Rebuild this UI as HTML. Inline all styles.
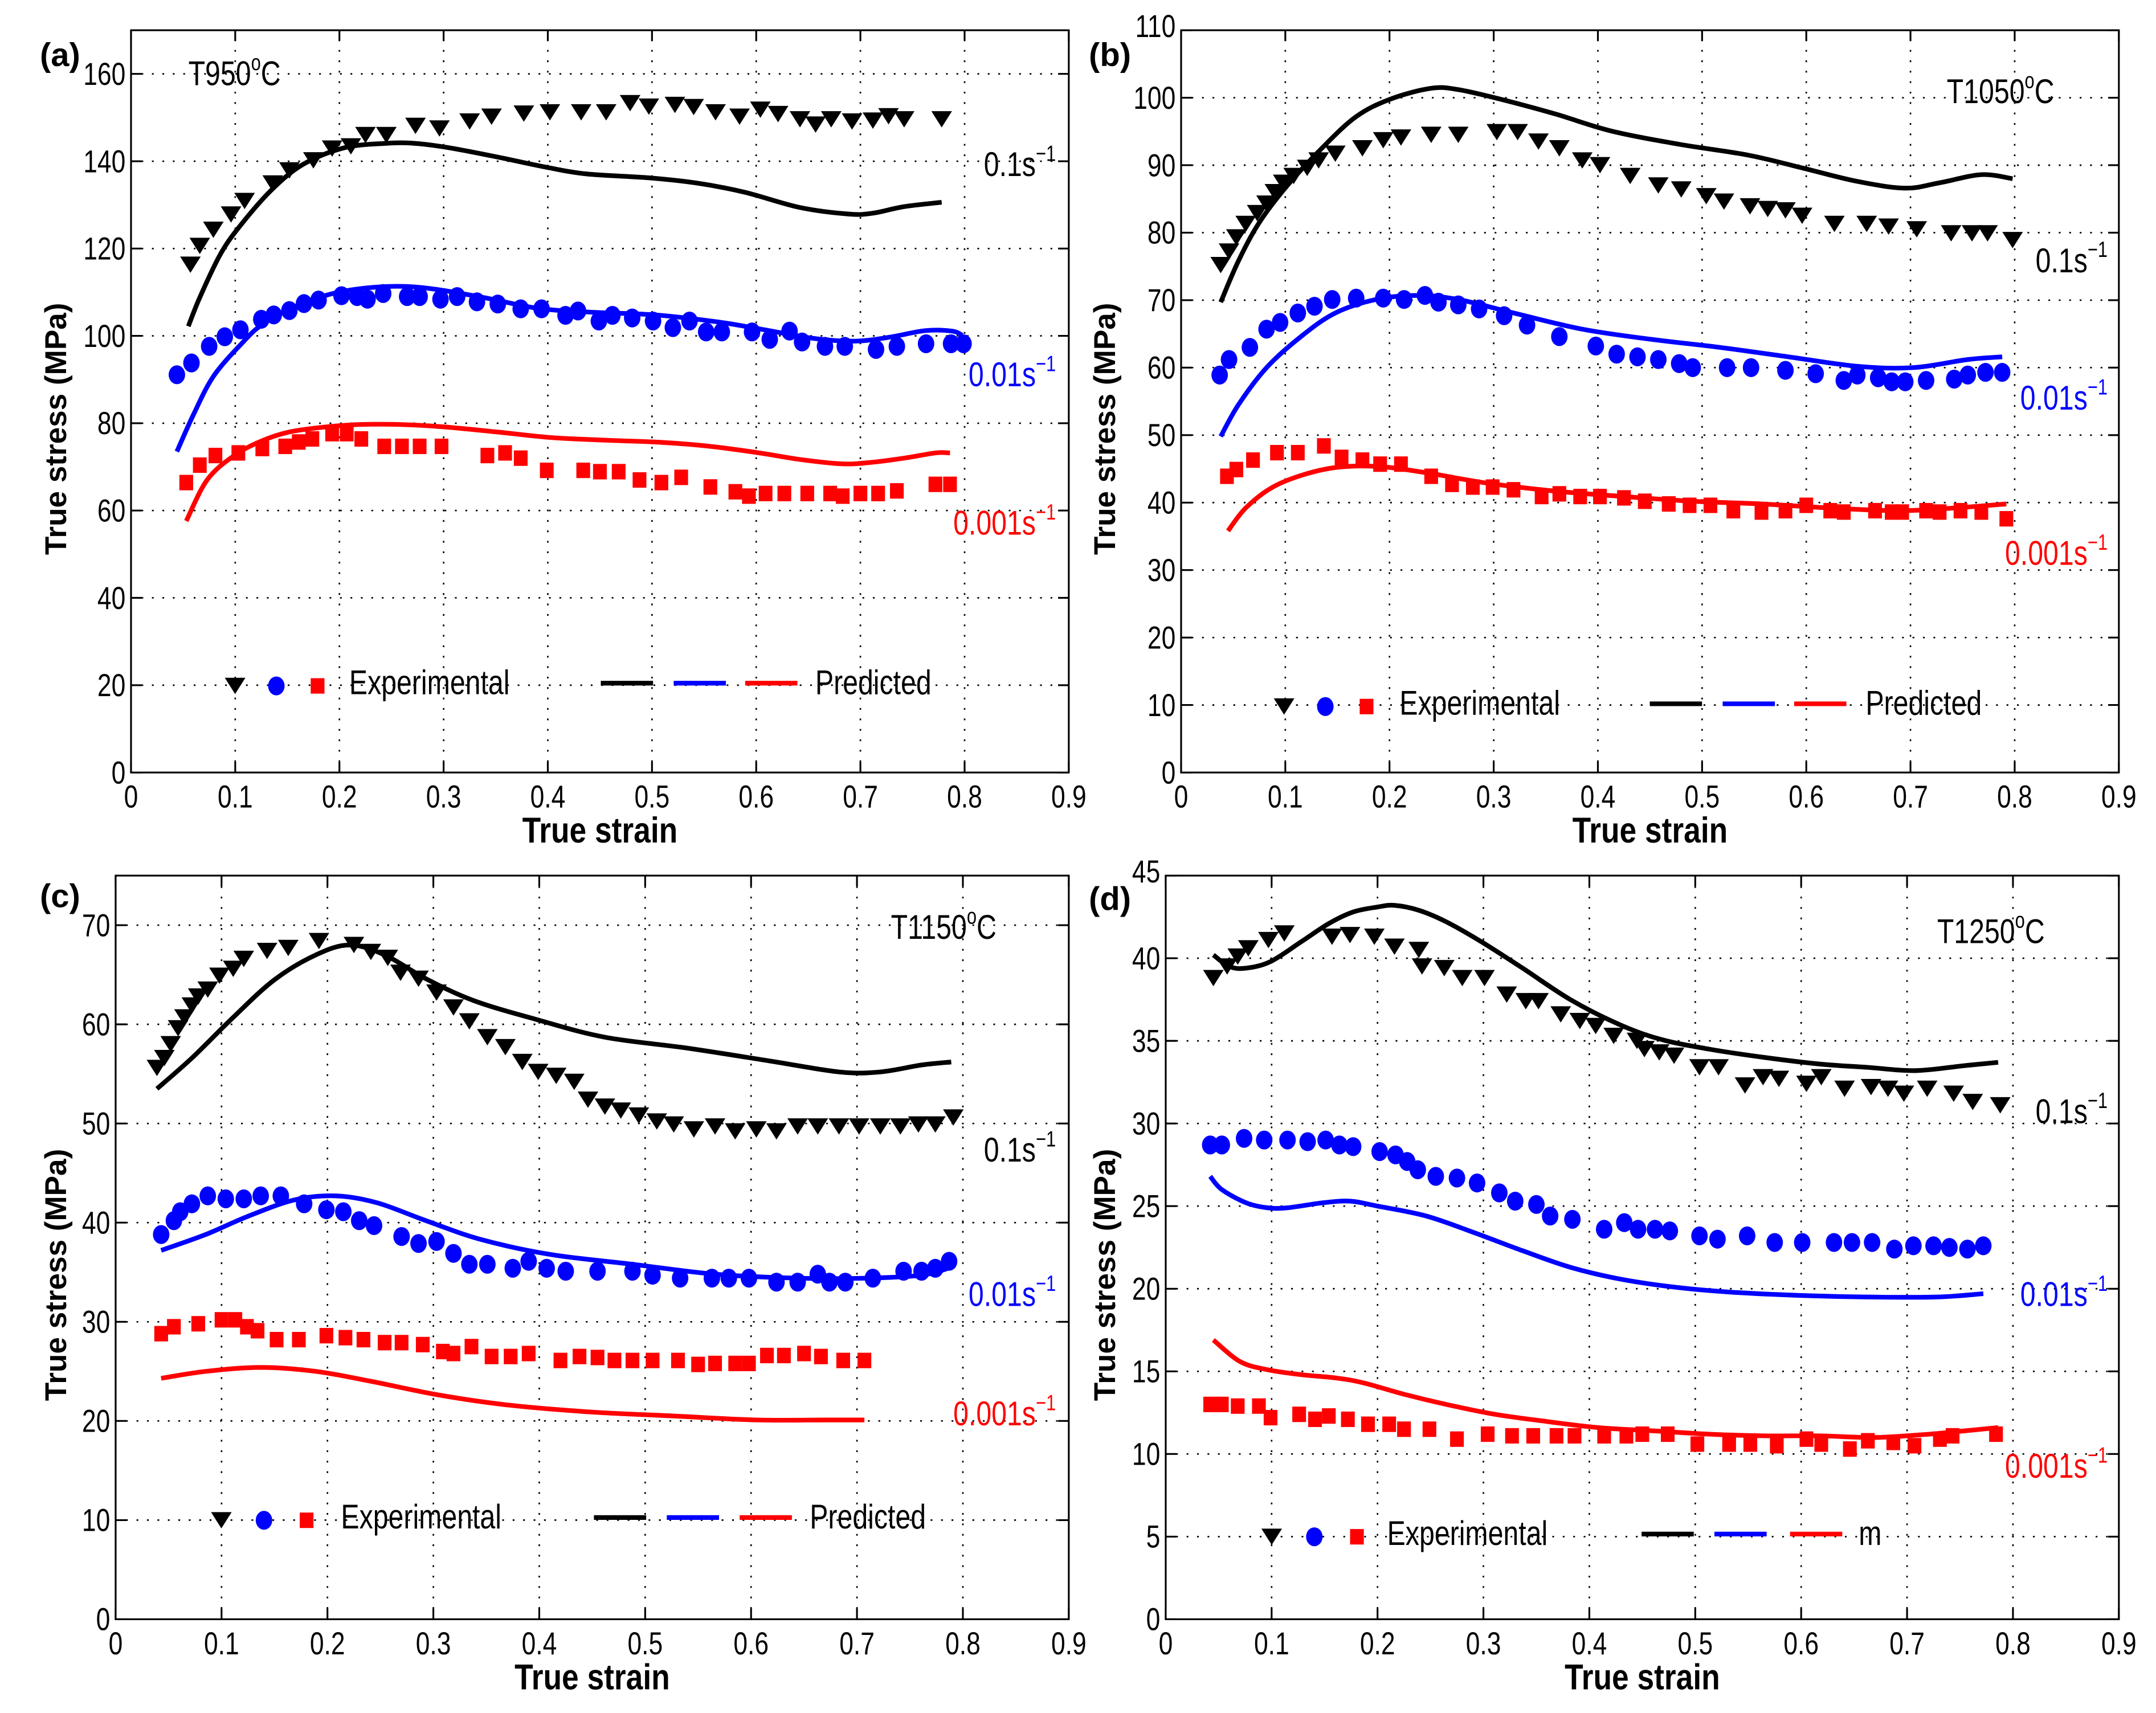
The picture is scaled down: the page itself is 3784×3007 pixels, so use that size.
<!DOCTYPE html>
<html><head><meta charset="utf-8">
<style>
html,body{margin:0;padding:0;background:#fff;}
svg{display:block;}
</style></head>
<body>
<svg id="fig" width="3784" height="3007" viewBox="0 0 1568.2 1246.2" xmlns="http://www.w3.org/2000/svg" font-family="'Liberation Sans', sans-serif">
<rect x="0" y="0" width="1568.2" height="1246.2" fill="#fff"/>
</svg>
<script>
// ---------------- data ----------------
const xTicks = [0,0.1,0.2,0.3,0.4,0.5,0.6,0.7,0.8,0.9];
const xTickLabels = ["0","0.1","0.2","0.3","0.4","0.5","0.6","0.7","0.8","0.9"];

// Panel (a) T950
const aExp01X = [0.057,0.066,0.079,0.096,0.109,0.136,0.152,0.175,0.193,0.211,0.225,0.245,0.273,0.296,0.325,0.346,0.377,0.402,0.432,0.456,0.479,0.497,0.522,0.540,0.561,0.584,0.604,0.621,0.642,0.657,0.672,0.692,0.712,0.727,0.742,0.778];
const aExp01Y = [116.3,120.6,124.3,127.8,130.9,134.9,137.9,140.2,142.9,143.4,146.0,146.0,148.1,147.5,149.1,150.2,150.9,151.2,151.2,151.2,153.3,152.5,152.9,152.4,151.2,150.2,151.8,150.8,149.6,148.4,149.6,149.1,149.3,150.3,149.6,149.6];
const aPre01X = [0.055,0.066,0.086,0.106,0.136,0.166,0.205,0.245,0.272,0.305,0.351,0.397,0.437,0.497,0.543,0.589,0.642,0.689,0.712,0.742,0.778];
const aPre01Y = [102.2,108.8,118.8,125.6,133.7,139.4,143.1,144.1,144.1,143.1,141.0,138.7,137.1,136.2,135.0,132.9,129.4,127.9,128.1,129.6,130.6];
const aExp001X = [0.044,0.058,0.075,0.090,0.105,0.125,0.137,0.152,0.166,0.180,0.202,0.217,0.227,0.242,0.265,0.277,0.297,0.313,0.332,0.352,0.374,0.394,0.417,0.429,0.449,0.462,0.481,0.501,0.520,0.536,0.552,0.567,0.596,0.613,0.632,0.644,0.666,0.685,0.715,0.735,0.763,0.787,0.799];
const aExp001Y = [91.1,93.8,97.6,99.8,101.4,103.8,104.8,105.8,107.4,108.2,109.2,109.0,108.4,109.7,109.0,109.0,108.4,109.0,107.8,107.3,106.2,106.2,104.7,105.7,103.4,104.7,104.1,103.4,101.9,103.4,100.9,100.9,100.9,99.2,101.1,98.6,97.6,97.6,96.9,97.6,98.2,98.2,98.2];
const aPre001X = [0.044,0.060,0.079,0.106,0.126,0.159,0.199,0.245,0.285,0.338,0.391,0.444,0.503,0.563,0.603,0.656,0.695,0.728,0.762,0.788,0.798];
const aPre001Y = [73.5,82.0,90.7,98.2,102.6,106.9,110.0,111.3,110.9,108.8,106.3,105.4,104.8,103.2,101.6,99.4,98.8,99.7,101.2,101.1,100.1];
const aExp0001X = [0.053,0.066,0.081,0.103,0.126,0.148,0.161,0.174,0.193,0.207,0.221,0.243,0.260,0.277,0.298,0.342,0.359,0.374,0.399,0.434,0.450,0.468,0.488,0.509,0.528,0.556,0.580,0.593,0.609,0.627,0.649,0.671,0.683,0.700,0.717,0.735,0.772,0.786];
const aExp0001Y = [66.4,70.4,72.6,73.2,74.2,74.7,75.7,76.4,77.6,77.6,76.4,74.7,74.7,74.7,74.7,72.6,73.2,72.0,69.2,69.2,68.9,68.9,67.0,66.4,67.6,65.4,64.3,63.3,63.9,63.9,63.9,63.9,63.3,63.9,63.9,64.5,66.0,66.0];
const aPre0001X = [0.053,0.073,0.099,0.126,0.152,0.185,0.219,0.258,0.298,0.351,0.404,0.457,0.510,0.556,0.603,0.642,0.682,0.709,0.742,0.772,0.786];
const aPre0001Y = [57.6,67.0,72.6,76.0,78.0,79.1,79.7,79.7,79.2,78.0,76.7,76.1,75.6,74.7,73.2,71.7,70.7,71.0,72.0,73.2,73.2];

// Panel (b) T1050
const bExp01X = [0.038,0.046,0.053,0.062,0.073,0.082,0.090,0.098,0.108,0.121,0.132,0.148,0.174,0.194,0.211,0.240,0.266,0.303,0.323,0.343,0.363,0.385,0.402,0.431,0.458,0.480,0.504,0.521,0.546,0.563,0.580,0.596,0.627,0.658,0.679,0.706,0.739,0.759,0.774,0.798];
const bExp01Y = [75.2,77.2,79.3,81.3,82.9,84.3,86.0,87.4,88.4,89.6,90.7,91.7,92.5,93.7,94.1,94.5,94.5,94.9,94.9,93.5,92.5,90.7,90.0,88.4,87.0,86.4,85.4,84.6,83.9,83.5,83.3,82.5,81.3,81.3,80.9,80.5,79.9,79.9,79.9,78.9];
const bPre01X = [0.038,0.055,0.075,0.102,0.135,0.168,0.201,0.240,0.266,0.306,0.359,0.412,0.478,0.544,0.596,0.649,0.695,0.728,0.768,0.798];
const bPre01Y = [69.7,75.8,81.5,87.0,92.5,97.2,99.8,101.4,101.2,99.8,97.6,95.1,93.1,91.5,89.6,87.6,86.6,87.4,88.6,88.0];
const bExp001X = [0.037,0.046,0.066,0.082,0.095,0.112,0.128,0.145,0.168,0.194,0.214,0.234,0.247,0.266,0.286,0.310,0.332,0.363,0.398,0.418,0.438,0.458,0.478,0.491,0.524,0.547,0.580,0.609,0.636,0.649,0.669,0.682,0.695,0.715,0.742,0.755,0.772,0.788];
const bExp001Y = [58.9,61.2,63.0,65.7,66.7,68.1,69.1,70.1,70.3,70.3,70.1,70.7,69.7,69.3,68.7,67.7,66.3,64.6,63.2,62.0,61.6,61.2,60.6,60.0,60.0,60.0,59.6,59.1,58.1,58.9,58.5,57.9,57.9,58.1,58.3,58.9,59.3,59.3];
const bPre001X = [0.038,0.055,0.082,0.115,0.148,0.187,0.227,0.266,0.319,0.385,0.451,0.517,0.583,0.649,0.702,0.755,0.788];
const bPre001Y = [49.8,54.5,60.0,64.6,68.1,70.1,70.7,70.1,68.1,65.7,64.2,63.0,61.6,60.2,60.0,61.2,61.6];
const bExp0001X = [0.044,0.053,0.069,0.092,0.112,0.137,0.154,0.174,0.191,0.211,0.240,0.260,0.280,0.299,0.319,0.346,0.363,0.383,0.402,0.425,0.445,0.468,0.488,0.508,0.530,0.557,0.580,0.600,0.623,0.636,0.666,0.682,0.692,0.715,0.728,0.748,0.768,0.792];
const bExp0001Y = [43.9,44.9,46.3,47.4,47.4,48.4,46.7,46.3,45.7,45.7,43.9,42.7,42.3,42.3,41.9,40.9,41.3,40.9,40.9,40.7,40.2,39.8,39.6,39.6,38.8,38.6,38.8,39.6,38.8,38.6,38.8,38.6,38.6,38.8,38.6,38.8,38.6,37.6];
const bPre0001X = [0.045,0.062,0.088,0.121,0.154,0.194,0.240,0.293,0.359,0.425,0.491,0.557,0.623,0.689,0.742,0.792];
const bPre0001Y = [35.8,39.2,42.3,44.3,45.3,45.3,44.3,42.9,41.7,40.9,40.2,39.8,39.2,38.8,39.2,39.8];

// Panel (c) T1150
const cExp01X = [0.039,0.046,0.052,0.059,0.065,0.072,0.078,0.087,0.098,0.111,0.121,0.143,0.163,0.192,0.225,0.241,0.257,0.269,0.286,0.303,0.319,0.334,0.351,0.368,0.384,0.399,0.416,0.433,0.446,0.462,0.477,0.494,0.511,0.527,0.546,0.566,0.585,0.605,0.624,0.644,0.663,0.683,0.702,0.722,0.741,0.758,0.774,0.791];
const cExp01Y = [55.6,56.6,58.0,59.6,60.7,61.9,62.8,63.5,64.9,65.6,66.6,67.4,67.7,68.4,68.0,67.3,66.7,65.2,64.6,63.2,61.7,60.3,58.7,57.7,56.2,55.2,54.8,54.2,52.4,51.7,51.3,50.8,50.2,49.9,49.4,49.7,49.2,49.4,49.2,49.7,49.7,49.7,49.7,49.7,49.7,49.9,49.9,50.6];
const cPre01X = [0.039,0.072,0.111,0.150,0.189,0.221,0.254,0.293,0.338,0.397,0.462,0.540,0.618,0.683,0.722,0.761,0.789];
const cPre01Y = [53.5,56.6,60.7,64.5,67.0,68.0,67.0,64.6,62.4,60.5,58.7,57.6,56.3,55.2,55.2,55.9,56.2];
const cExp001X = [0.043,0.055,0.061,0.072,0.087,0.104,0.121,0.137,0.156,0.178,0.199,0.215,0.230,0.244,0.270,0.286,0.303,0.319,0.334,0.351,0.375,0.390,0.407,0.425,0.455,0.488,0.507,0.533,0.563,0.579,0.598,0.624,0.644,0.663,0.674,0.689,0.715,0.744,0.761,0.774,0.787];
const cExp001Y = [38.8,40.2,41.1,41.9,42.7,42.4,42.4,42.7,42.7,41.9,41.3,41.1,40.2,39.7,38.6,37.9,38.1,36.9,35.8,35.8,35.4,36.1,35.4,35.1,35.1,35.1,34.7,34.4,34.4,34.4,34.4,34.0,34.0,34.8,34.0,34.0,34.4,35.1,35.1,35.4,36.1];
const cPre001X = [0.043,0.085,0.124,0.169,0.208,0.247,0.293,0.345,0.410,0.488,0.566,0.644,0.709,0.761,0.789];
const cPre001Y = [37.2,38.8,40.6,42.3,42.7,42.0,40.2,38.3,36.8,35.8,34.8,34.4,34.4,34.7,35.5];
const cExp0001X = [0.043,0.055,0.078,0.100,0.113,0.124,0.134,0.152,0.173,0.199,0.217,0.234,0.254,0.270,0.290,0.309,0.319,0.336,0.355,0.373,0.390,0.420,0.438,0.455,0.471,0.488,0.507,0.531,0.550,0.566,0.585,0.598,0.615,0.631,0.650,0.666,0.687,0.707];
const cExp0001Y = [28.8,29.5,29.8,30.2,30.2,29.5,29.1,28.2,28.2,28.6,28.4,28.2,27.9,27.9,27.7,27.0,26.8,27.5,26.5,26.5,26.8,26.1,26.5,26.4,26.1,26.1,26.1,26.1,25.7,25.8,25.8,25.8,26.6,26.6,26.8,26.5,26.1,26.1];
const cPre0001X = [0.043,0.085,0.137,0.189,0.241,0.306,0.371,0.449,0.527,0.605,0.670,0.707];
const cPre0001Y = [24.3,25.0,25.4,25.0,24.0,22.6,21.6,20.9,20.5,20.1,20.1,20.1];

// Panel (d) T1250
const dExp01X = [0.045,0.058,0.068,0.078,0.097,0.112,0.157,0.174,0.197,0.216,0.239,0.242,0.263,0.280,0.301,0.322,0.340,0.352,0.373,0.391,0.406,0.423,0.445,0.452,0.466,0.480,0.504,0.522,0.547,0.564,0.579,0.605,0.619,0.641,0.666,0.682,0.697,0.719,0.744,0.762,0.788];
const dExp01Y = [38.8,39.5,40.1,40.6,41.1,41.5,41.3,41.4,41.3,40.7,40.5,39.5,39.4,38.8,38.8,37.8,37.4,37.4,36.6,36.2,35.9,35.3,35.0,34.5,34.3,34.1,33.4,33.4,32.3,32.8,32.7,32.4,32.8,32.1,32.2,32.1,31.8,32.1,31.8,31.3,31.1];
const dPre01X = [0.045,0.060,0.076,0.099,0.128,0.154,0.177,0.200,0.216,0.239,0.265,0.298,0.337,0.382,0.428,0.467,0.513,0.565,0.617,0.662,0.708,0.754,0.786];
const dPre01Y = [40.2,39.5,39.4,39.8,41.0,42.1,42.8,43.1,43.2,42.9,42.2,41.0,39.4,37.5,36.0,35.1,34.5,34.0,33.6,33.4,33.2,33.5,33.7];
const dExp001X = [0.042,0.053,0.074,0.093,0.115,0.134,0.151,0.164,0.177,0.202,0.217,0.228,0.238,0.255,0.275,0.294,0.315,0.330,0.350,0.363,0.384,0.414,0.433,0.446,0.462,0.476,0.504,0.521,0.549,0.575,0.601,0.631,0.648,0.667,0.688,0.706,0.725,0.740,0.757,0.772];
const dExp001Y = [28.7,28.7,29.1,29.0,29.0,28.9,29.0,28.7,28.6,28.3,28.1,27.7,27.2,26.8,26.7,26.4,25.8,25.3,25.1,24.4,24.2,23.6,24.0,23.6,23.6,23.5,23.2,23.0,23.2,22.8,22.8,22.8,22.8,22.8,22.4,22.6,22.6,22.5,22.4,22.6];
const dPre001X = [0.042,0.053,0.076,0.096,0.115,0.148,0.174,0.200,0.246,0.291,0.337,0.382,0.428,0.480,0.532,0.597,0.662,0.728,0.772];
const dPre001Y = [26.8,26.0,25.2,24.9,24.9,25.2,25.3,25.0,24.4,23.4,22.3,21.3,20.6,20.1,19.8,19.6,19.5,19.5,19.7];
const dExp0001X = [0.042,0.053,0.068,0.088,0.099,0.126,0.141,0.154,0.172,0.191,0.211,0.225,0.249,0.275,0.304,0.327,0.347,0.369,0.386,0.414,0.435,0.450,0.474,0.502,0.532,0.552,0.577,0.605,0.619,0.646,0.663,0.687,0.707,0.731,0.743,0.784];
const dExp0001Y = [13.0,13.0,12.9,12.9,12.2,12.4,12.1,12.3,12.1,11.8,11.8,11.5,11.5,10.9,11.2,11.1,11.1,11.1,11.1,11.1,11.1,11.2,11.2,10.6,10.6,10.6,10.5,10.9,10.6,10.3,10.8,10.7,10.5,10.9,11.1,11.2];
const dPre0001X = [0.045,0.070,0.096,0.128,0.161,0.187,0.226,0.265,0.311,0.356,0.408,0.461,0.513,0.565,0.617,0.669,0.721,0.754,0.786];
const dPre0001Y = [16.9,15.6,15.1,14.8,14.6,14.3,13.6,13.0,12.4,12.0,11.6,11.4,11.2,11.1,11.1,11.0,11.2,11.4,11.6];

const aYTicks = [0,20,40,60,80,100,120,140,160];
const bYTicks = [0,10,20,30,40,50,60,70,80,90,100,110];
const cYTicks = [0,10,20,30,40,50,60,70];
const dYTicks = [0,5,10,15,20,25,30,35,40,45];

// ---------------- drawing ----------------
const NS = "http://www.w3.org/2000/svg";
const svg = document.getElementById('fig');
function mk(tag, attrs, parent) {
  const e = document.createElementNS(NS, tag);
  for (const k in attrs) e.setAttribute(k, attrs[k]);
  (parent || svg).appendChild(e);
  return e;
}
function ctext(str, x, y, size, anchor, fill, weight, sx, parent) {
  const t = mk('text', {transform: 'translate(' + x + ',' + y + ') scale(' + sx + ',1)', 'font-size': size, 'text-anchor': anchor, fill: fill, 'font-weight': weight}, parent);
  t.textContent = str;
  return t;
}
function rateLabel(g, base, x, y, color) {
  const t = mk('text', {transform: 'translate(' + x + ',' + y + ') scale(0.8,1)', 'font-size': 25, 'text-anchor': 'end', fill: color}, g);
  
  
  t.appendChild(document.createTextNode(base + 's'));
  const sp = mk('tspan', {'font-size': 16, dy: -11}, t);
  sp.textContent = '\u22121';
  return t;
}
function tempLabel(g, val, x, y) {
  const t = mk('text', {transform: 'translate(' + x + ',' + y + ') scale(0.8,1)', 'font-size': 25, fill: '#000'}, g);
  
  
  t.appendChild(document.createTextNode('T' + val));
  const s1 = mk('tspan', {'font-size': 16, dy: -11}, t); s1.textContent = 'o';
  const s2 = mk('tspan', {dy: 11}, t); s2.textContent = 'C';
}
function marker(g, type, cx, cy, color, s) {
  let e;
  if (type === 'tri') {
    const h = s * 0.95, w = s * 0.6;
    e = mk('polygon', {points: (cx - w) + ',' + (cy - h / 2) + ' ' + (cx + w) + ',' + (cy - h / 2) + ' ' + cx + ',' + (cy + h / 2), fill: color}, g);
  } else if (type === 'circ') {
    e = mk('ellipse', {cx: cx, cy: cy, rx: s * 0.48, ry: s * 0.55, fill: color}, g);
  } else {
    e = mk('rect', {x: cx - s * 0.4, y: cy - s * 0.45, width: s * 0.8, height: s * 0.9, fill: color}, g);
  }
  return e;
}
// smooth path through points (Catmull-Rom)
function smoothPath(P) {
  let d = 'M' + P[0][0].toFixed(2) + ',' + P[0][1].toFixed(2);
  for (let i = 0; i < P.length - 1; i++) {
    const p0 = P[i - 1] || P[i], p1 = P[i], p2 = P[i + 1], p3 = P[i + 2] || P[i + 1];
    const c1x = p1[0] + (p2[0] - p0[0]) / 6, c1y = p1[1] + (p2[1] - p0[1]) / 6;
    const c2x = p2[0] - (p3[0] - p1[0]) / 6, c2y = p2[1] - (p3[1] - p1[1]) / 6;
    d += ' C' + c1x.toFixed(2) + ',' + c1y.toFixed(2) + ' ' + c2x.toFixed(2) + ',' + c2y.toFixed(2) + ' ' + p2[0].toFixed(2) + ',' + p2[1].toFixed(2);
  }
  return d;
}

function panel(cfg) {
  const g = mk('g', {});
  
  
  const L = cfg.L, R = cfg.R, T = cfg.T, B = cfg.B;
  const xs = v => L + (v / 0.9) * (R - L);
  const ys = v => B - (v / cfg.ymax) * (B - T);
  const grid = mk('g', {stroke: '#000', 'stroke-width': 1.1, 'stroke-dasharray': '1.3 6.3'}, g);
  
  
  xTicks.forEach(v => { if (v > 0 && v < 0.9) mk('line', {x1: xs(v), x2: xs(v), y1: B, y2: T}, grid); });
  cfg.yt.forEach(v => { if (v > 0 && v < cfg.ymax) mk('line', {x1: L, x2: R, y1: ys(v), y2: ys(v)}, grid); });
  const tk = mk('g', {stroke: '#000', 'stroke-width': 1.3}, g);
  
  
  xTicks.forEach(v => { mk('line', {x1: xs(v), x2: xs(v), y1: B, y2: B - 7.8}, tk); mk('line', {x1: xs(v), x2: xs(v), y1: T, y2: T + 7.8}, tk); });
  cfg.yt.forEach(v => { mk('line', {x1: L, x2: L + 7.8, y1: ys(v), y2: ys(v)}, tk); mk('line', {x1: R, x2: R - 7.8, y1: ys(v), y2: ys(v)}, tk); });
  const fr = mk('rect', {x: L, y: T, width: R - L, height: B - T, fill: 'none', stroke: '#000', 'stroke-width': 1.3}, g);
  
  
  xTicks.forEach((v, i) => {
    const t = ctext(xTickLabels[i], xs(v), B + 25.5, 23, 'middle', '#000', 'normal', 0.8, g);
    
    
  });
  cfg.yt.forEach(v => {
    const top = (v === cfg.ymax);
    const t = ctext(String(v), L - 4, top ? ys(v) + 5 : ys(v) + 8, 23, 'end', '#000', 'normal', 0.8, g);
    
    
  });
  const xt = ctext('True strain', (L + R) / 2, B + 51, 26, 'middle', '#000', 'bold', 0.85, g);
  
  
  const yt = mk('text', {transform: 'translate(' + cfg.ytx + ',' + ((T + B) / 2 + 20) + ') rotate(-90)', 'font-size': 22, 'font-weight': 'bold', 'text-anchor': 'middle'}, g);
  yt.textContent = 'True stress (MPa)';
  
  
  const pl = mk('text', {x: cfg.lx, y: cfg.ly, 'font-size': 24, 'font-weight': 'bold'}, g);
  pl.textContent = cfg.letter;
  
  
  const colors = ['#000', '#0000ff', '#ff0000'];
  const types = ['tri', 'circ', 'sq'];
  const names = ['0.1', '0.01', '0.001'];
  cfg.series.forEach((s, k) => {
    const P = s.px.map((x, i) => [xs(x), ys(s.py[i])]);
    const pl2 = mk('path', {d: smoothPath(P), fill: 'none', stroke: colors[k], 'stroke-width': 3.4, 'stroke-linejoin': 'round', 'stroke-linecap': 'butt'}, g);
    
    
    const mg = mk('g', {}, g);
    
    
    s.ex.forEach((x, i) => {
      const m = marker(mg, types[k], xs(x), ys(s.ey[i]), colors[k], 12.5);
      
      
    });
  });
  rateLabel(g, '0.1', cfg.rl.x, cfg.rl.y[0], '#000');
  rateLabel(g, '0.01', cfg.rl.x, cfg.rl.y[1], '#0000ff');
  rateLabel(g, '0.001', cfg.rl.x, cfg.rl.y[2], '#ff0000');
  tempLabel(g, cfg.temp, cfg.tx, cfg.ty);
  const lg = mk('g', {}, g);
  
  
  const lgd = cfg.lg;
  types.forEach((tp, k) => {
    const m = marker(lg, tp, lgd.mx[k], lgd.y + 2, colors[k], 12.5);
    
    
    const ln = mk('line', {x1: lgd.lx[k], x2: lgd.lx[k] + 38, y1: lgd.y, y2: lgd.y, stroke: colors[k], 'stroke-width': 3.4}, lg);
    
    
  });
  const e1 = ctext('Experimental', lgd.ex, lgd.y + 8, 25, 'start', '#000', 'normal', 0.8, lg);
  
  
  const e2 = ctext(cfg.predName, lgd.px, lgd.y + 8, 25, 'start', '#000', 'normal', 0.8, lg);
  
  
}

panel({name: 'panel-a-t950', L: 95.3, R: 777.4, T: 22, B: 562, ymax: 170, yt: aYTicks, ytx: 48, lx: 29, ly: 48, letter: '(a)',
  series: [{ex: aExp01X, ey: aExp01Y, px: aPre01X, py: aPre01Y}, {ex: aExp001X, ey: aExp001Y, px: aPre001X, py: aPre001Y}, {ex: aExp0001X, ey: aExp0001Y, px: aPre0001X, py: aPre0001Y}],
  rl: {x: 768, y: [128, 281, 389]}, temp: '950', tx: 137, ty: 62,
  lg: {y: 497, mx: [171, 201, 231], lx: [437, 490, 542], ex: 254, px: 593}, predName: 'Predicted'});
panel({name: 'panel-b-t1050', L: 859.1, R: 1541.2, T: 22, B: 562, ymax: 110, yt: bYTicks, ytx: 811, lx: 792, ly: 48, letter: '(b)',
  series: [{ex: bExp01X, ey: bExp01Y, px: bPre01X, py: bPre01Y}, {ex: bExp001X, ey: bExp001Y, px: bPre001X, py: bPre001Y}, {ex: bExp0001X, ey: bExp0001Y, px: bPre0001X, py: bPre0001Y}],
  rl: {x: 1533, y: [198, 298, 411]}, temp: '1050', tx: 1416, ty: 75,
  lg: {y: 512, mx: [934, 964, 994], lx: [1200, 1253, 1305], ex: 1018, px: 1357}, predName: 'Predicted'});
panel({name: 'panel-c-t1150', L: 84.1, R: 777.4, T: 637, B: 1178, ymax: 75, yt: cYTicks, ytx: 48, lx: 29, ly: 660, letter: '(c)',
  series: [{ex: cExp01X, ey: cExp01Y, px: cPre01X, py: cPre01Y}, {ex: cExp001X, ey: cExp001Y, px: cPre001X, py: cPre001Y}, {ex: cExp0001X, ey: cExp0001Y, px: cPre0001X, py: cPre0001Y}],
  rl: {x: 768, y: [845, 950, 1037]}, temp: '1150', tx: 648, ty: 683,
  lg: {y: 1104, mx: [161, 192, 223], lx: [432, 485, 538], ex: 248, px: 589}, predName: 'Predicted'});
panel({name: 'panel-d-t1250', L: 847.9, R: 1541.2, T: 637, B: 1178, ymax: 45, yt: dYTicks, ytx: 811, lx: 792, ly: 662, letter: '(d)',
  series: [{ex: dExp01X, ey: dExp01Y, px: dPre01X, py: dPre01Y}, {ex: dExp001X, ey: dExp001Y, px: dPre001X, py: dPre001Y}, {ex: dExp0001X, ey: dExp0001Y, px: dPre0001X, py: dPre0001Y}],
  rl: {x: 1533, y: [817, 950, 1075]}, temp: '1250', tx: 1409, ty: 686,
  lg: {y: 1116, mx: [925, 956, 987], lx: [1194, 1247, 1302], ex: 1009, px: 1352}, predName: 'm'});
</script>
</body></html>
